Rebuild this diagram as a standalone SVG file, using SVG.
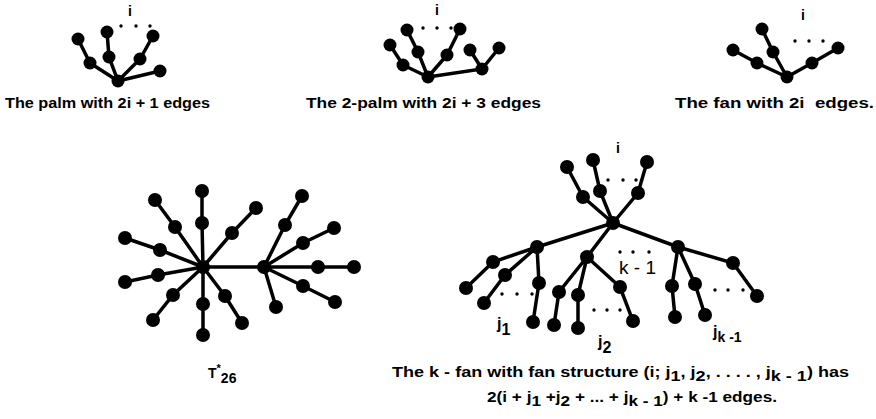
<svg xmlns="http://www.w3.org/2000/svg" width="876" height="419" viewBox="0 0 876 419">
<style>
.e{stroke:#000;stroke-width:3.5;fill:none;stroke-linecap:round}
.n{fill:#000}
.d{fill:#000}
.t{font-family:"Liberation Sans",Arial,sans-serif;font-weight:bold;font-size:14px;fill:#000}
.l{font-family:"Liberation Sans",Arial,sans-serif;font-weight:bold;font-size:16px;fill:#000}
.k{font-family:"Liberation Sans",Arial,sans-serif;font-size:19px;fill:#000}
</style>
<rect width="876" height="419" fill="#fff"/>
<defs>
<circle id="nd" r="7" class="n"/>
<circle id="sn" r="6.5" class="n"/>
<circle id="dt" r="1.7" class="d"/>
</defs>

<g id="connectors">
<!-- palm -->
<path class="e" d="M118,81L90,63L78,39M118,81L109,57L107,32M118,81L140,59L153,36M118,81L160,71"/>
<!-- 2-palm -->
<path class="e" d="M428,77L403,65L390,45M428,77L418,52L407,30M428,77L447,55L460,29M428,77L482,69L470,50M482,69L499,48"/>
<!-- fan -->
<path class="e" d="M787,77L757,63L733,50M787,77L773,52L762,29M787,77L812,63L838,48"/>
<!-- T*26 -->
<path class="e" d="M203,267L264,267
M203,267L202,223L202,191
M203,267L175,227L155,200
M203,267L160,250L125,238
M203,267L158,275L125,282
M203,267L173,295L153,320
M203,267L203,304L203,335
M203,267L225,296L242,323
M203,267L232,233L256,208
M264,267L285,225L302,196
M264,267L303,243L334,228
M264,267L318,267L354,267
M264,267L303,286L335,302
M264,267L276,307"/>
<!-- k-fan -->
<path class="e" d="M613,223L583,197L567,167
M613,223L600,191L593,160
M613,223L638,193L647,162
M613,223L537,247M613,223L587,257M613,223L678,247
M537,247L493,262L466,288
M537,247L505,275L484,303
M537,247L539,283L533,322
M587,257L559,292L554,325
M587,257L578,295L578,328
M587,257L620,287L633,321
M678,247L672,286L675,317
M678,247L695,284L705,315
M678,247L733,263L757,296"/>
</g>

<g id="palm">
<g id="p-c"><use href="#sn" x="118" y="81"/></g>
<g id="p-a1"><use href="#sn" x="90" y="63"/></g>
<g id="p-a2"><use href="#sn" x="78" y="39"/></g>
<g id="p-b1"><use href="#sn" x="109" y="57"/></g>
<g id="p-b2"><use href="#sn" x="107" y="32"/></g>
<g id="p-d1"><use href="#sn" x="140" y="59"/></g>
<g id="p-d2"><use href="#sn" x="153" y="36"/></g>
<g id="p-e"><use href="#sn" x="160" y="71"/></g>
<use href="#dt" x="121" y="26"/><use href="#dt" x="136" y="26"/><use href="#dt" x="150" y="26"/>
<text class="t" x="128" y="16">i</text>
<text class="t" x="5" y="108" textLength="205" lengthAdjust="spacingAndGlyphs">The palm with 2i + 1 edges</text>
</g>

<g id="palm2">
<g id="q-c"><use href="#sn" x="428" y="77"/></g>
<g id="q-a1"><use href="#sn" x="403" y="65"/></g>
<g id="q-a2"><use href="#sn" x="390" y="45"/></g>
<g id="q-b1"><use href="#sn" x="418" y="52"/></g>
<g id="q-b2"><use href="#sn" x="407" y="30"/></g>
<g id="q-d1"><use href="#sn" x="447" y="55"/></g>
<g id="q-d2"><use href="#sn" x="460" y="29"/></g>
<g id="q-h"><use href="#sn" x="482" y="69"/></g>
<g id="q-h1"><use href="#sn" x="470" y="50"/></g>
<g id="q-h2"><use href="#sn" x="499" y="48"/></g>
<use href="#dt" x="423" y="28"/><use href="#dt" x="437" y="28"/><use href="#dt" x="451" y="28"/>
<text class="t" x="435" y="15">i</text>
<text class="t" x="306" y="108" textLength="235" lengthAdjust="spacingAndGlyphs">The 2-palm with 2i + 3 edges</text>
</g>

<g id="fan">
<g id="f-c"><use href="#sn" x="787" y="77"/></g>
<g id="f-a1"><use href="#sn" x="757" y="63"/></g>
<g id="f-a2"><use href="#sn" x="733" y="50"/></g>
<g id="f-b1"><use href="#sn" x="773" y="52"/></g>
<g id="f-b2"><use href="#sn" x="762" y="29"/></g>
<g id="f-d1"><use href="#sn" x="812" y="63"/></g>
<g id="f-d2"><use href="#sn" x="838" y="48"/></g>
<use href="#dt" x="795" y="41"/><use href="#dt" x="809" y="41"/><use href="#dt" x="823" y="41"/>
<text class="t" x="801" y="20">i</text>
<text class="t" x="675" y="108" textLength="199" lengthAdjust="spacingAndGlyphs" xml:space="preserve">The fan with 2i  edges.</text>
</g>

<g id="tstar26">
<g id="t-L"><use href="#nd" x="203" y="267"/></g>
<g id="t-R"><use href="#nd" x="264" y="267"/></g>
<g id="t-1"><use href="#nd" x="202" y="223"/><use href="#nd" x="202" y="191"/></g>
<g id="t-2"><use href="#nd" x="175" y="227"/><use href="#nd" x="155" y="200"/></g>
<g id="t-3"><use href="#nd" x="160" y="250"/><use href="#nd" x="125" y="238"/></g>
<g id="t-4"><use href="#nd" x="158" y="275"/><use href="#nd" x="125" y="282"/></g>
<g id="t-5"><use href="#nd" x="173" y="295"/><use href="#nd" x="153" y="320"/></g>
<g id="t-6"><use href="#nd" x="203" y="304"/><use href="#nd" x="203" y="335"/></g>
<g id="t-7"><use href="#nd" x="225" y="296"/><use href="#nd" x="242" y="323"/></g>
<g id="t-8"><use href="#nd" x="232" y="233"/><use href="#nd" x="256" y="208"/></g>
<g id="t-9"><use href="#nd" x="285" y="225"/><use href="#nd" x="302" y="196"/></g>
<g id="t-10"><use href="#nd" x="303" y="243"/><use href="#nd" x="334" y="228"/></g>
<g id="t-11"><use href="#nd" x="318" y="267"/><use href="#nd" x="354" y="267"/></g>
<g id="t-12"><use href="#nd" x="303" y="286"/><use href="#nd" x="335" y="302"/></g>
<g id="t-13"><use href="#nd" x="276" y="307"/></g>
<text class="t" x="208" y="378">T<tspan font-size="11" dy="-6">*</tspan><tspan dy="11">26</tspan></text>
</g>

<g id="kfan">
<g id="k-H"><use href="#nd" x="613" y="223"/></g>
<g id="k-top1"><use href="#nd" x="583" y="197"/><use href="#nd" x="567" y="167"/></g>
<g id="k-top2"><use href="#nd" x="600" y="191"/><use href="#nd" x="593" y="160"/></g>
<g id="k-top3"><use href="#nd" x="638" y="193"/><use href="#nd" x="647" y="162"/></g>
<g id="k-S1"><use href="#nd" x="537" y="247"/></g>
<g id="k-S1a"><use href="#nd" x="493" y="262"/><use href="#nd" x="466" y="288"/></g>
<g id="k-S1b"><use href="#nd" x="505" y="275"/><use href="#nd" x="484" y="303"/></g>
<g id="k-S1c"><use href="#nd" x="539" y="283"/><use href="#nd" x="533" y="322"/></g>
<g id="k-S2"><use href="#nd" x="587" y="257"/></g>
<g id="k-S2a"><use href="#nd" x="559" y="292"/><use href="#nd" x="554" y="325"/></g>
<g id="k-S2b"><use href="#nd" x="578" y="295"/><use href="#nd" x="578" y="328"/></g>
<g id="k-S2c"><use href="#nd" x="620" y="287"/><use href="#nd" x="633" y="321"/></g>
<g id="k-S3"><use href="#nd" x="678" y="247"/></g>
<g id="k-S3a"><use href="#nd" x="672" y="286"/><use href="#nd" x="675" y="317"/></g>
<g id="k-S3b"><use href="#nd" x="695" y="284"/><use href="#nd" x="705" y="315"/></g>
<g id="k-S3c"><use href="#nd" x="733" y="263"/><use href="#nd" x="757" y="296"/></g>
<use href="#dt" x="608" y="180"/><use href="#dt" x="623" y="180"/><use href="#dt" x="636" y="180"/>
<use href="#dt" x="502" y="294"/><use href="#dt" x="517" y="294"/><use href="#dt" x="532" y="294"/>
<use href="#dt" x="594" y="310"/><use href="#dt" x="607" y="310"/><use href="#dt" x="620" y="310"/>
<use href="#dt" x="715" y="290"/><use href="#dt" x="728" y="290"/><use href="#dt" x="743" y="290"/>
<use href="#dt" x="620" y="252"/><use href="#dt" x="633" y="252"/><use href="#dt" x="649" y="252"/>
<text class="t" x="616" y="153">i</text>
<text class="k" x="619" y="274">k - 1</text>
<text class="l" x="497" y="329">j<tspan dy="6">1</tspan></text>
<text class="l" x="598" y="347">j<tspan dy="6">2</tspan></text>
<text class="l" x="713" y="337">j<tspan font-size="14" dy="5">k -1</tspan></text>
<text class="t" x="392" y="377" textLength="457" lengthAdjust="spacingAndGlyphs">The k - fan with fan structure  (i; j<tspan dy="4">1</tspan><tspan dy="-4">, j</tspan><tspan dy="4">2</tspan><tspan dy="-4">, . . . . , j</tspan><tspan dy="4">k - 1</tspan><tspan dy="-4">) has</tspan></text>
<text class="t" x="487" y="402" textLength="290" lengthAdjust="spacingAndGlyphs">2(i + j<tspan dy="4">1</tspan><tspan dy="-4"> +j</tspan><tspan dy="4">2</tspan><tspan dy="-4"> + ... + j</tspan><tspan dy="4">k - 1</tspan><tspan dy="-4">) + k -1 edges.</tspan></text>
</g>
</svg>
